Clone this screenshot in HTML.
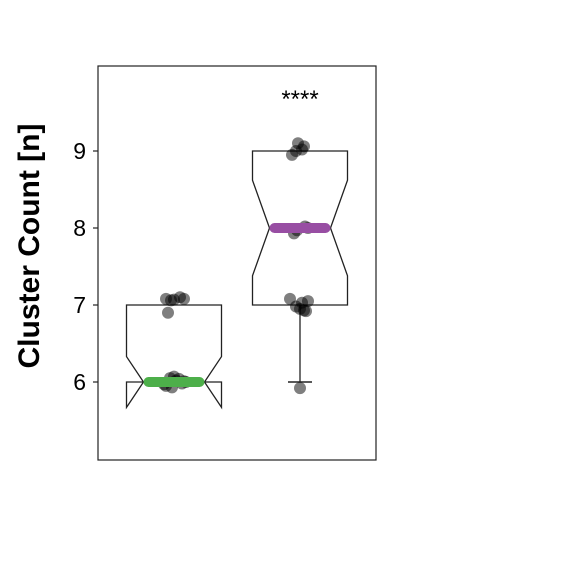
<!DOCTYPE html>
<html><head><meta charset="utf-8"><style>body{margin:0;background:#fff}</style></head>
<body>
<svg id="chart" width="576" height="576" xmlns="http://www.w3.org/2000/svg" style="font-family:'Liberation Sans',Arial,sans-serif">
<rect x="98" y="66" width="278" height="394" fill="none" stroke="#222" stroke-width="1.2"/>
<text x="0" y="0" transform="translate(39,246) rotate(-90)" text-anchor="middle" font-size="30" font-weight="bold">Cluster Count [n]</text>
<g id="ticks"></g><g id="boxes"></g><g id="pts"></g>
<text x="300" y="107" text-anchor="middle" font-size="24">****</text>
</svg>
<script>
const yTicks=[6,7,8,9];
const groups=["A","B"];
const lower=[6,6];const q1=[6,7];const med=[6,8];const q3=[7,9];const upper=[7,9];
const notchLo=[5.67,7.38];const notchHi=[6.33,8.62];
const colors=["#4DAF4A","#984EA3"];
const ptsA=[7.08,7.07,7.1,7.06,7.08,6.9,6.05,6.02,5.98,5.95,6.0,6.04,5.93,6.07,6.01,5.97];
const ptsAx=[-8,0,6,-3,10,-6,-4,2,8,-8,12,5,-2,0,10,-10];
const ptsB=[9.1,9.06,9.0,8.95,9.02,8.02,7.97,7.93,8.0,7.08,7.05,6.95,6.92,6.98,7.03,6.93,5.92];
const ptsBx=[-2,4,-4,-8,2,5,-3,-6,8,-10,8,0,6,-4,2,4,0];
const ns="http://www.w3.org/2000/svg";
const y=v=>382-(v-6)*77;
const xc=i=>[174,300][i];
const half=47.5, nin=30.5;
function mk(t,a,p){const e=document.createElementNS(ns,t);for(const k in a)e.setAttribute(k,a[k]);p.appendChild(e);return e;}
const tg=document.getElementById('ticks');
yTicks.forEach(t=>{
 const l=mk('line',{x1:93,x2:98,y1:y(t),y2:y(t),stroke:'#222','stroke-width':1.2},tg);
 
 
 const tx=mk('text',{x:86,y:y(t)+8,'text-anchor':'end','font-size':23},tg);tx.textContent=t;
 
 
});
const bg=document.getElementById('boxes');
groups.forEach((g,i)=>{
 const c=xc(i),L=c-half,R=c+half,nl=c-nin,nr=c+nin;
 const d=`M${L},${y(q3[i])}L${L},${y(notchHi[i])}L${nl},${y(med[i])}L${L},${y(notchLo[i])}L${L},${y(q1[i])}L${R},${y(q1[i])}L${R},${y(notchLo[i])}L${nr},${y(med[i])}L${R},${y(notchHi[i])}L${R},${y(q3[i])}Z`;
 const p=mk('path',{d,fill:'none',stroke:'#222','stroke-width':1.3},bg);
 
 
 if(lower[i]<q1[i]){
  const w=mk('line',{x1:c,x2:c,y1:y(q1[i]),y2:y(lower[i]),stroke:'#222','stroke-width':1.3},bg);
  
  
  const cp=mk('line',{x1:c-12,x2:c+12,y1:y(lower[i]),y2:y(lower[i]),stroke:'#222','stroke-width':1.5},bg);
  
  
 }
});
const pg=document.getElementById('pts');
[[ptsA,ptsAx],[ptsB,ptsBx]].forEach(([vs,jx],i)=>{
 vs.forEach((v,k)=>{
  const e=mk('circle',{cx:xc(i)+jx[k],cy:y(v),r:6,fill:'#000','fill-opacity':0.5},pg);
  
  
 });
});
groups.forEach((g,i)=>{
 const m=mk('line',{x1:xc(i)-nin+5,x2:xc(i)+nin-5,y1:y(med[i]),y2:y(med[i]),stroke:colors[i],'stroke-width':10,'stroke-linecap':'round'},pg);
 
 
});
</script>
</body></html>
